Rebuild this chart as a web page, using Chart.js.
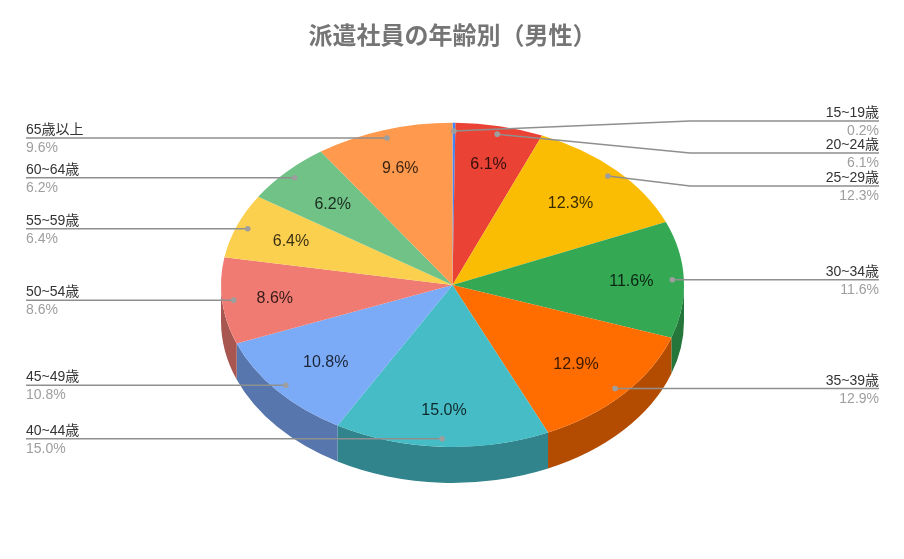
<!DOCTYPE html>
<html lang="ja">
<head>
<meta charset="UTF-8">
<title>派遣社員の年齢別（男性）</title>
<script src="https://cdn.jsdelivr.net/npm/chart.js"></script>
<style>
  html, body { margin: 0; background: #fff; }
  canvas { display: block; }
</style>
</head>
<body>
<canvas id="myChart" width="904" height="559"></canvas>
<script>
const titleText = '派遣社員の年齢別（男性）';
const categories = ['15~19歳', '20~24歳', '25~29歳', '30~34歳', '35~39歳', '40~44歳', '45~49歳', '50~54歳', '55~59歳', '60~64歳', '65歳以上'];
const percents = [0.2, 6.1, 12.3, 11.6, 12.9, 15.0, 10.8, 8.6, 6.4, 6.2, 9.6];
const topColors = ['#4285F4', '#EA4335', '#FBBC04', '#34A853', '#FF6D01', '#46BDC6', '#7BAAF7', '#F07B72', '#FCD04F', '#71C287', '#FF994D'];
const sideColors = ['#2E5DAB', '#A42F25', '#B08403', '#24763A', '#B34C01', '#31848B', '#5676AD', '#A85650', '#B09237', '#4F885F', '#B36B36'];

const FONT = '"Liberation Sans", "Noto Sans CJK JP", sans-serif';
const SQUASH = 0.7;      // tilt of the pie
const DEPTH = 36;        // height of the side wall
const RADIUS = 231.5;
const LEFT_X = 26, RIGHT_X = 879, ELBOW_X = 690;
// the three top right labels are pushed apart so they do not overlap
const raisedLines = { 0: 121, 1: 153, 2: 186 };

function squashY(arc, y) {
    return arc.y + (y - arc.y) * SQUASH;
}

const pie3d = {
    id: 'pie3d',
    beforeDatasetsDraw(chart) {
        const ctx = chart.ctx;
        const arcs = chart.getDatasetMeta(0).data;
        const cx = arcs[0].x, cy = arcs[0].y;

        // side wall, only the front half of the pie shows it
        arcs.forEach((arc, i) => {
            const a1 = Math.max(arc.startAngle, 0);
            const a2 = Math.min(arc.endAngle, Math.PI);
            if (a2 <= a1) return;
            ctx.beginPath();
            ctx.ellipse(cx, cy, RADIUS, RADIUS * SQUASH, 0, a1, a2);
            ctx.ellipse(cx, cy + DEPTH, RADIUS, RADIUS * SQUASH, 0, a2, a1, true);
            ctx.closePath();
            ctx.fillStyle = sideColors[i];
            ctx.fill();
        });

        ctx.save();
        ctx.translate(cx, cy);
        ctx.scale(1, SQUASH);
        ctx.translate(-cx, -cy);
    },
    afterDatasetsDraw(chart) {
        const ctx = chart.ctx;
        ctx.restore();

        const arcs = chart.getDatasetMeta(0).data;

        // values inside the slices, pulled in a bit on the diagonals
        ctx.font = '16px ' + FONT;
        ctx.fillStyle = 'rgba(0,0,0,0.78)';
        ctx.textAlign = 'center';
        ctx.textBaseline = 'middle';
        arcs.forEach((arc, i) => {
            if (percents[i] < 1) return;
            const mid = (arc.startAngle + arc.endAngle) / 2;
            const r = 179 - 12 * Math.pow(Math.sin(2 * mid), 2);
            const x = arc.x + Math.cos(mid) * r;
            const y = squashY(arc, arc.y + Math.sin(mid) * r);
            ctx.fillText(percents[i].toFixed(1) + '%', x, y + 1);
        });

        // callouts
        ctx.textBaseline = 'alphabetic';
        arcs.forEach((arc, i) => {
            const mid = (arc.startAngle + arc.endAngle) / 2;
            const px = arc.x + Math.cos(mid) * RADIUS * 0.95;
            const py = squashY(arc, arc.y + Math.sin(mid) * RADIUS * 0.95);
            const right = px >= arc.x - 1;
            const lineY = raisedLines[i] !== undefined ? raisedLines[i] : py;
            const endX = right ? RIGHT_X : LEFT_X;

            ctx.strokeStyle = '#8f8f8f';
            ctx.lineWidth = 1.5;
            ctx.beginPath();
            ctx.moveTo(px, py);
            if (raisedLines[i] !== undefined) ctx.lineTo(ELBOW_X, lineY);
            ctx.lineTo(endX, lineY);
            ctx.stroke();

            ctx.fillStyle = '#9e9e9e';
            ctx.beginPath();
            ctx.arc(px, py, 2.8, 0, Math.PI * 2);
            ctx.fill();

            ctx.textAlign = right ? 'right' : 'left';
            ctx.font = '14px ' + FONT;
            ctx.fillStyle = '#333333';
            ctx.fillText(categories[i], endX, lineY - 4);
            ctx.fillStyle = '#9e9e9e';
            ctx.fillText(percents[i].toFixed(1) + '%', endX, lineY + 14);
        });
    }
};

new Chart(document.getElementById('myChart').getContext('2d'), {
    type: 'pie',
    data: {
        labels: categories,
        datasets: [{
            data: percents,
            backgroundColor: topColors,
            borderWidth: 0,
            radius: RADIUS,
            clip: false
        }]
    },
    options: {
        responsive: false,
        animation: false,
        layout: { padding: { left: 1, bottom: 49 } },
        plugins: {
            legend: { display: false },
            tooltip: { enabled: false },
            title: {
                display: true,
                text: titleText,
                color: '#757575',
                font: { family: FONT, size: 24, weight: 'bold' },
                padding: { top: 23, bottom: 8 }
            }
        }
    },
    plugins: [pie3d]
});
</script>
</body>
</html>
